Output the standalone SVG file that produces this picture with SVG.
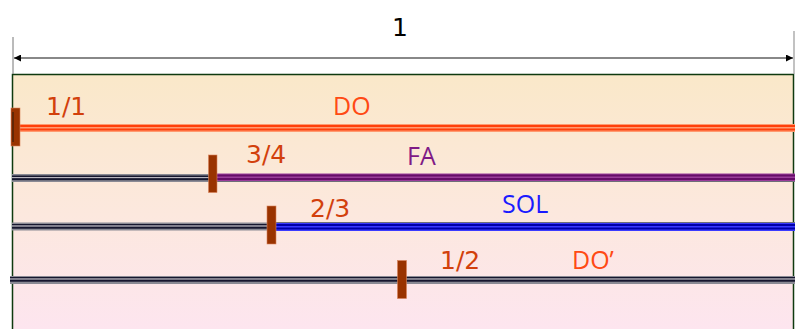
<svg xmlns="http://www.w3.org/2000/svg" width="795" height="329" viewBox="0 0 795 329">
<style>
text{font-family:"Open Sans","Liberation Sans",sans-serif;font-size:25px}
.num{font-family:"DejaVu Sans","Liberation Sans",sans-serif;font-size:25px}
.frac{fill:#D2400C}
.do{fill:#FF4A14}
.fa{fill:#7F1A86}
.sol{fill:#1A1AFF}
.bridge{fill:#993300;stroke:#D9825A;stroke-width:0.6}
.gbg{fill:#8A8A94}
.gdk{fill:#16162E}
.glt{fill:#B8B4BE}
.obg{fill:#FF9A70}
.odk{fill:#FF3F0A}
.pbg{fill:#9A3C9A}
.pdk{fill:#660C68}
.bbg{fill:#3A3AFF}
.bdk{fill:#0000A8}
</style>
<defs>
<linearGradient id="bg" x1="0" y1="74" x2="0" y2="329" gradientUnits="userSpaceOnUse">
<stop offset="0" stop-color="#FAE8C9"/>
<stop offset="0.55" stop-color="#FCE8DE"/>
<stop offset="1" stop-color="#FDE5EF"/>
</linearGradient>
<marker id="arr" viewBox="0 0 10 10" refX="10" refY="5" markerWidth="7" markerHeight="7" markerUnits="userSpaceOnUse" orient="auto-start-reverse">
<path d="M0,0 L10,5 L0,10 Z" fill="#000"/>
</marker>
</defs>
<rect id="frame" x="12.5" y="74.5" width="781" height="270" fill="url(#bg)" stroke="#0F3A0F" stroke-width="1.5"/>
<g id="connectors">
<line x1="13" y1="37" x2="13" y2="74" stroke="#777" stroke-width="1"/>
<line x1="794" y1="31" x2="794" y2="74" stroke="#999" stroke-width="1.2"/>
<line x1="14" y1="58" x2="793" y2="58" stroke="#606060" stroke-width="1.5" marker-start="url(#arr)" marker-end="url(#arr)"/>
</g>
<text id="total" class="num" x="392" y="35.5" fill="#000">1</text>
<g id="string-do">
<rect class="obg" x="20" y="124" width="775" height="8"/>
<rect class="odk" x="20" y="125" width="775" height="2"/>
<rect class="odk" x="20" y="128.5" width="775" height="2"/>
<rect class="bridge" x="11" y="108" width="9" height="38"/>
<line x1="13" y1="112" x2="13" y2="142" stroke="#2A1A0A" stroke-width="1"/>
<text class="num frac" x="46" y="115">1/1</text>
<text class="do" x="333" y="115">DO</text>
</g>
<g id="string-fa">
<rect class="gbg" x="12" y="174" width="200" height="8"/>
<rect class="gdk" x="12" y="175.5" width="200" height="1.5"/>
<rect class="glt" x="12" y="177" width="200" height="1.2"/>
<rect class="gdk" x="12" y="178.2" width="200" height="2"/>
<rect class="pbg" x="212" y="173.5" width="583" height="8"/>
<rect class="pdk" x="212" y="174.5" width="583" height="2"/>
<rect class="pdk" x="212" y="178" width="583" height="2"/>
<rect x="212" y="181" width="583" height="1" fill="#6E6E78"/>
<rect class="bridge" x="208.5" y="155" width="8.5" height="37.5"/>
<text class="num frac" x="246" y="163">3/4</text>
<text class="fa" x="407" y="165">FA</text>
</g>
<g id="string-sol">
<rect class="gbg" x="12" y="222.5" width="258" height="8"/>
<rect class="gdk" x="12" y="224" width="258" height="1.5"/>
<rect class="glt" x="12" y="225.5" width="258" height="1.2"/>
<rect class="gdk" x="12" y="226.7" width="258" height="2"/>
<rect x="270" y="222" width="525" height="1" fill="#6E6E78"/>
<rect class="bbg" x="270" y="223" width="525" height="8"/>
<rect class="bdk" x="270" y="224" width="525" height="2"/>
<rect class="bdk" x="270" y="227.5" width="525" height="2"/>
<rect class="bridge" x="267" y="206" width="9" height="38"/>
<text class="num frac" x="310" y="217">2/3</text>
<text class="sol" x="502" y="213">SOL</text>
</g>
<g id="string-do2">
<rect class="gbg" x="10" y="276" width="785" height="8"/>
<rect class="gdk" x="10" y="277" width="785" height="1.5"/>
<rect class="glt" x="10" y="278.5" width="785" height="1.2"/>
<rect class="gdk" x="10" y="279.7" width="785" height="2"/>
<rect class="bridge" x="397.5" y="260.5" width="9" height="38"/>
<text class="num frac" x="440" y="269">1/2</text>
<text class="do" x="572" y="269">DO’</text>
</g>
</svg>
